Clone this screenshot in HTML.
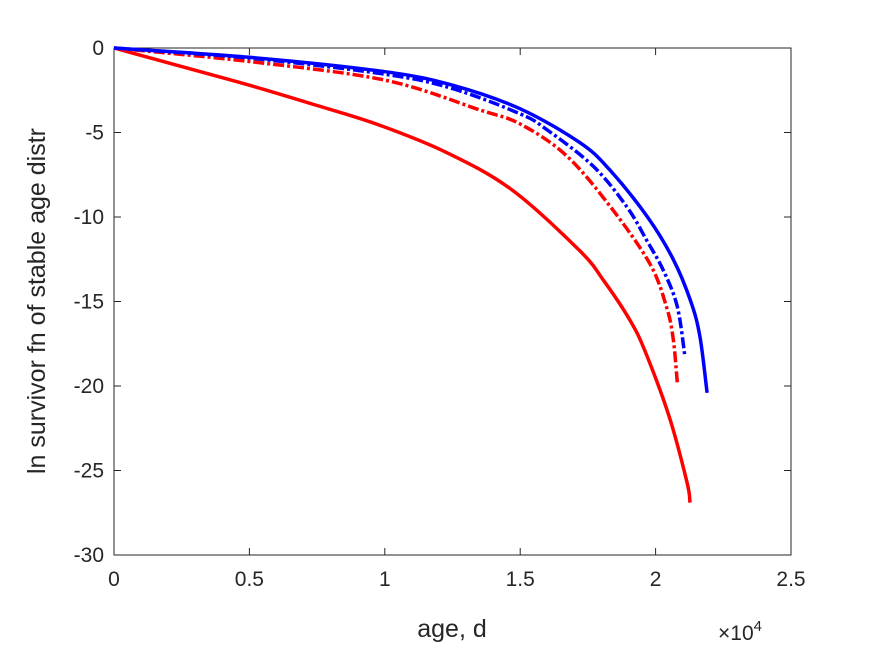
<!DOCTYPE html>
<html><head><meta charset="utf-8"><style>
body{margin:0;background:#fff;}
svg text{font-family:"Liberation Sans",sans-serif;fill:#262626;}
</style></head><body>
<svg id="chart" width="875" height="656" viewBox="0 0 875 656" xmlns="http://www.w3.org/2000/svg">
<rect width="875" height="656" fill="#fff"/>
<g id="axes"></g>
<g id="series"></g>
<text x="452" y="637" font-size="25" text-anchor="middle">age, d</text>
<text x="718" y="640" font-size="21">×10<tspan font-size="15" dy="-9">4</tspan></text>
<text transform="translate(45,301) rotate(-90)" font-size="25" text-anchor="middle">ln survivor fn of stable age distr</text>
</svg>
<script>
const xTicks=[0,0.5,1,1.5,2,2.5];
const xTickLabels=["0","0.5","1","1.5","2","2.5"];
const yTicks=[0,-5,-10,-15,-20,-25,-30];
const yTickLabels=["0","-5","-10","-15","-20","-25","-30"];
const redSolidX=[0,0.25,0.5,0.75,0.98,1.23,1.47,1.72,1.81,1.905,1.96,2.05,2.116,2.127];
const redSolidY=[0,-1.1,-2.2,-3.4,-4.56,-6.2,-8.4,-12.0,-13.8,-16.1,-17.9,-21.8,-25.7,-26.9];
const blueSolidX=[0,0.5,1,1.25,1.5,1.72,1.83,1.97,2.065,2.13,2.164,2.19];
const blueSolidY=[0,-0.55,-1.4,-2.2,-3.6,-5.6,-7.2,-10,-12.5,-15,-17.1,-20.4];
const blueDashX=[0,0.5,1,1.25,1.5,1.6,1.77,1.894,1.968,2.03,2.08,2.108];
const blueDashY=[0,-0.6,-1.55,-2.4,-3.9,-4.85,-7,-9.4,-11.4,-13.2,-15.3,-18.2];
const redDashX=[0,0.5,1,1.35,1.5,1.673,1.843,1.98,2.04,2.065,2.08];
const redDashY=[0,-0.8,-1.9,-3.66,-4.5,-6.4,-9.6,-12.8,-15.3,-17.2,-19.8];
const L=114,R=791,T=48,B=555;
const sx=v=>L+(v-0)/(2.5-0)*(R-L);
const sy=v=>T+(0-v)/30*(B-T);
const NS="http://www.w3.org/2000/svg";
const axes=document.getElementById('axes');
function mk(tag,attrs,parent){const e=document.createElementNS(NS,tag);for(const k in attrs)e.setAttribute(k,attrs[k]);parent.appendChild(e);return e;}
const box=mk('rect',{x:L,y:T,width:R-L,height:B-T,fill:'none',stroke:'#262626','stroke-width':1},axes);


xTicks.forEach((t,i)=>{
  const x=sx(t);
  const l1=mk('line',{x1:x,x2:x,y1:B,y2:B-7,stroke:'#262626'},axes);
  
  
  mk('line',{x1:x,x2:x,y1:T,y2:T+7,stroke:'#262626'},axes);
  const tx=mk('text',{x:x,y:B+31,'font-size':21,'text-anchor':'middle'},axes);
  tx.textContent=xTickLabels[i];
  
  
});
yTicks.forEach((t,i)=>{
  const y=sy(t);
  const l1=mk('line',{x1:L,x2:L+7,y1:y,y2:y,stroke:'#262626'},axes);
  
  
  mk('line',{x1:R,x2:R-7,y1:y,y2:y,stroke:'#262626'},axes);
  const tx=mk('text',{x:L-10,y:y+7,'font-size':21,'text-anchor':'end'},axes);
  tx.textContent=yTickLabels[i];
  
  
});
const ser=document.getElementById('series');
function smooth(pts){
  let d='M'+pts[0][0].toFixed(1)+','+pts[0][1].toFixed(1);
  for(let i=0;i<pts.length-1;i++){
    const p0=pts[Math.max(0,i-1)],p1=pts[i],p2=pts[i+1],p3=pts[Math.min(pts.length-1,i+2)];
    const c1=[p1[0]+(p2[0]-p0[0])/6,p1[1]+(p2[1]-p0[1])/6];
    const c2=[p2[0]-(p3[0]-p1[0])/6,p2[1]-(p3[1]-p1[1])/6];
    d+=' C'+c1[0].toFixed(1)+','+c1[1].toFixed(1)+' '+c2[0].toFixed(1)+','+c2[1].toFixed(1)+' '+p2[0].toFixed(1)+','+p2[1].toFixed(1);
  }
  return d;
}
function line(xs,ys,color,dash,name){
  const pts=xs.map((x,i)=>[sx(x),sy(ys[i])]);
  const p=mk('path',{d:smooth(pts),fill:'none',stroke:color,'stroke-width':3.5,'stroke-linejoin':'round'},ser);
  if(dash)p.setAttribute('stroke-dasharray',dash);
  
  
}
line(redSolidX,redSolidY,'#ff0000',null,'red-solid-line');
line(redDashX,redDashY,'#ff0000','11,3,3,3','red-dashdot-line');
line(blueDashX,blueDashY,'#0000ff','11,3,3,3','blue-dashdot-line');
line(blueSolidX,blueSolidY,'#0000ff',null,'blue-solid-line');
</script>
</body></html>
